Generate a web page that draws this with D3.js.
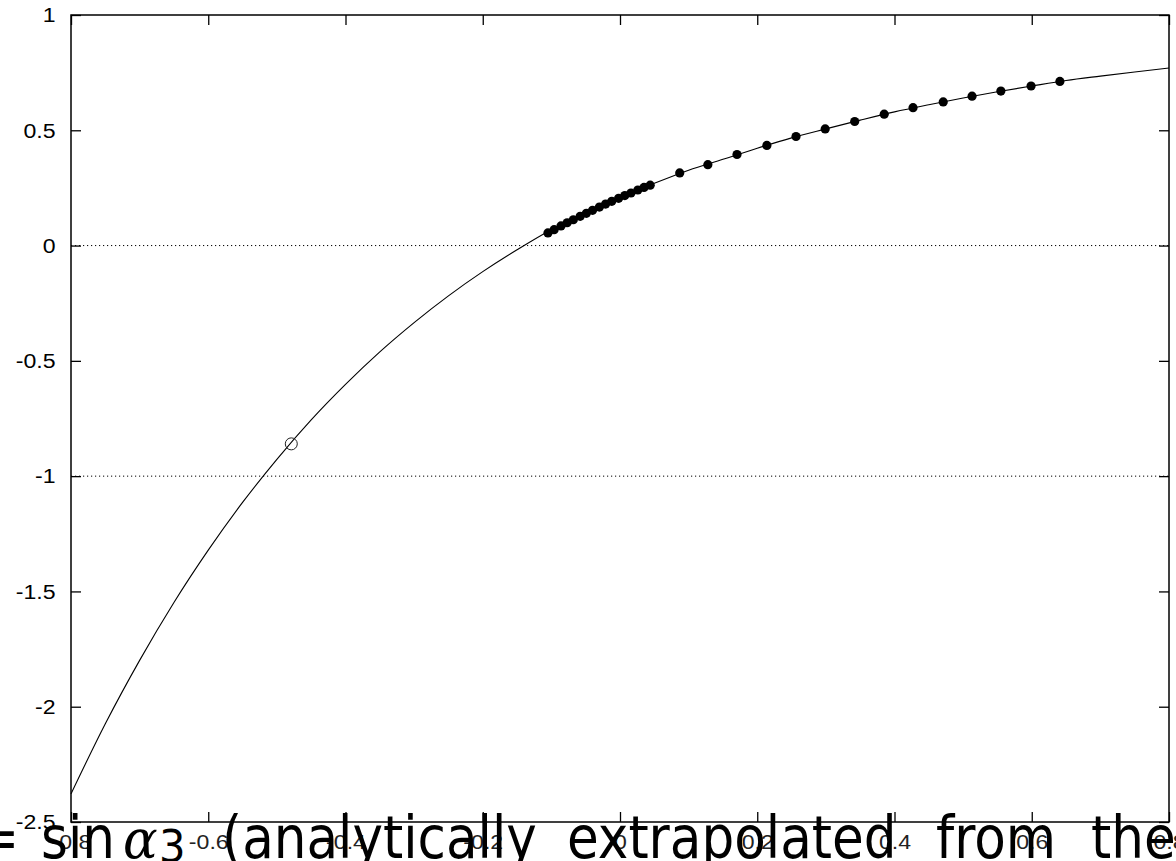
<!DOCTYPE html>
<html>
<head>
<meta charset="utf-8">
<script src="https://cdn.jsdelivr.net/npm/d3@7/dist/d3.min.js"></script>
<style>
  html, body { margin: 0; padding: 0; background: #fff; }
  svg { display: block; }
</style>
</head>
<body>
<svg id="chart" width="1176" height="861"></svg>
<script>
// Axis ticks
const xTicks = [-0.8, -0.6, -0.4, -0.2, 0, 0.2, 0.4, 0.6, 0.8];
const xTickLabels = ["-0.8", "-0.6", "-0.4", "-0.2", "0", "0.2", "0.4", "0.6", "0.8"];
const yTicks = [1, 0.5, 0, -0.5, -1, -1.5, -2, -2.5];
const yTickLabels = ["1", "0.5", "0", "-0.5", "-1", "-1.5", "-2", "-2.5"];

// Horizontal dotted reference levels
const refLevels = [0, -1];

// Continuous curve
const curveX = [-0.8, -0.75, -0.7, -0.65, -0.6, -0.55, -0.5, -0.45, -0.4, -0.35, -0.3, -0.25, -0.2, -0.15, -0.1,
                -0.05, 0, 0.05, 0.1, 0.15, 0.2, 0.25, 0.3, 0.35, 0.4, 0.45, 0.5, 0.55, 0.6, 0.65, 0.7, 0.75, 0.8];
const curveY = [-2.378, -2.074, -1.799, -1.548, -1.321, -1.114, -0.927, -0.756, -0.602, -0.461, -0.334, -0.218, -0.113, -0.018, 0.069,
                0.139, 0.208, 0.270, 0.327, 0.374, 0.422, 0.467, 0.506, 0.544, 0.580, 0.611, 0.640, 0.667, 0.692, 0.716, 0.735, 0.753, 0.770];

// Filled points: dense run
const denseX = [-0.105, -0.096, -0.086, -0.077, -0.068, -0.058, -0.049, -0.040, -0.030, -0.021, -0.012, -0.002, 0.007, 0.016, 0.026, 0.035, 0.044];
const denseY = [0.055, 0.069, 0.085, 0.099, 0.112, 0.127, 0.140, 0.153, 0.167, 0.180, 0.192, 0.205, 0.217, 0.228, 0.241, 0.252, 0.262];

// Filled points: sparse run
const sparseX = [0.087, 0.128, 0.1705, 0.214, 0.2565, 0.299, 0.342, 0.385, 0.427, 0.471, 0.513, 0.555, 0.599, 0.641];
const sparseY = [0.315, 0.351, 0.395, 0.4345, 0.473, 0.506, 0.538, 0.570, 0.598, 0.623, 0.648, 0.670, 0.692, 0.712];

// Open marker
const openX = [-0.479];
const openY = [-0.86];

const svg = d3.select("#chart");
const plot = { left: 71, right: 1169, top: 15, bottom: 822 };

const x = d3.scaleLinear().domain([-0.8, 0.8]).range([plot.left, plot.right]);
const y = d3.scaleLinear().domain([-2.5, 1]).range([plot.bottom, plot.top]);

const tickFont = "'Liberation Sans', Arial, Helvetica, sans-serif";

// Dotted reference lines
svg.append("g").selectAll("line").data(refLevels).join("line")
  .attr("x1", plot.left).attr("x2", plot.right)
  .attr("y1", d => y(d)).attr("y2", d => y(d))
  .attr("stroke", "#000").attr("stroke-width", 1)
  .attr("stroke-dasharray", "1.2,2.8");

// Curve
const curvePts = curveX.map((v, i) => [v, curveY[i]]);
svg.append("path")
  .datum(curvePts)
  .attr("fill", "none").attr("stroke", "#000").attr("stroke-width", 1.1)
  .attr("d", d3.line().x(d => x(d[0])).y(d => y(d[1])).curve(d3.curveMonotoneX));

// Filled points
const filled = denseX.map((v, i) => [v, denseY[i]]).concat(sparseX.map((v, i) => [v, sparseY[i]]));
svg.append("g").selectAll("circle").data(filled).join("circle")
  .attr("cx", d => x(d[0])).attr("cy", d => y(d[1])).attr("r", 4.6)
  .attr("fill", "#000");

// Open point
svg.append("g").selectAll("circle").data(openX.map((v, i) => [v, openY[i]])).join("circle")
  .attr("cx", d => x(d[0])).attr("cy", d => y(d[1])).attr("r", 6)
  .attr("fill", "none").attr("stroke", "#222").attr("stroke-width", 1);

// Axes: ticks pointing inward on all four sides
function styleAxis(g) {
  g.select(".domain").remove();
  g.selectAll(".tick line").attr("stroke", "#000").attr("stroke-width", 1.3);
  g.selectAll(".tick text").attr("font-family", tickFont).attr("font-size", 21).attr("fill", "#000");
}

const gBottom = svg.append("g").attr("transform", `translate(0,${plot.bottom})`)
  .call(d3.axisBottom(x).tickValues(xTicks).tickSizeInner(-10).tickSizeOuter(0).tickPadding(12)
        .tickFormat((d, i) => xTickLabels[i]))
  .call(styleAxis);
gBottom.selectAll(".tick text").attr("fill", "#222").attr("transform", "scale(1.1,1)");

const gLeft = svg.append("g").attr("transform", `translate(${plot.left},0)`)
  .call(d3.axisLeft(y).tickValues(yTicks).tickSizeInner(-10).tickSizeOuter(0).tickPadding(14)
        .tickFormat((d, i) => yTickLabels[i]))
  .call(styleAxis);
gLeft.selectAll(".tick text").attr("transform", "scale(1.1,1)");

svg.append("g").attr("transform", `translate(0,${plot.top})`)
  .call(d3.axisTop(x).tickValues(xTicks).tickSizeInner(-10).tickSizeOuter(0).tickFormat(""))
  .call(styleAxis);

svg.append("g").attr("transform", `translate(${plot.right},0)`)
  .call(d3.axisRight(y).tickValues(yTicks).tickSizeInner(-10).tickSizeOuter(0).tickFormat(""))
  .call(styleAxis);

// Frame
svg.append("rect")
  .attr("x", plot.left).attr("y", plot.top)
  .attr("width", plot.right - plot.left).attr("height", plot.bottom - plot.top)
  .attr("fill", "none").attr("stroke", "#000").attr("stroke-width", 1.5);

// Axis caption along the bottom
const captionBase = 858;
const captionFont = "'DejaVu Sans', sans-serif";
const caption = svg.append("g").attr("fill", "#000");
const words = [
  { t: "=", px: -24 },
  { t: "sin", px: 41 },
  { t: "(analytically", px: 222 },
  { t: "extrapolated", px: 567 },
  { t: "from", px: 936 },
  { t: "the", px: 1091 }
];
caption.selectAll("text.w").data(words).join("text")
  .attr("class", "w")
  .attr("transform", d => `translate(${d.px},${captionBase}) scale(0.89,1)`)
  .attr("font-family", captionFont).attr("font-size", 58)
  .text(d => d.t);
caption.append("text")
  .attr("transform", `translate(123,${captionBase}) scale(0.95,1)`)
  .attr("font-family", "'DejaVu Serif', serif").attr("font-style", "italic").attr("font-size", 54)
  .text("α");
caption.append("text")
  .attr("transform", `translate(159,${captionBase + 4}) scale(0.95,1)`)
  .attr("font-family", captionFont).attr("font-size", 44)
  .text("3");
</script>
</body>
</html>
